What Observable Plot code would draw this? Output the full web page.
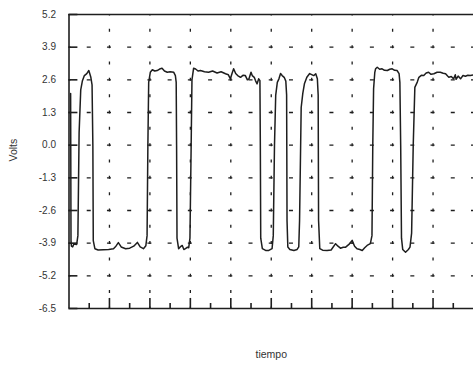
<!DOCTYPE html>
<html>
<head>
<meta charset="utf-8">
<script src="https://cdn.jsdelivr.net/npm/d3@7"></script>
<script src="https://cdn.jsdelivr.net/npm/@observablehq/plot@0.6"></script>
<style>
  html, body { margin: 0; padding: 0; background: #fff; }
</style>
</head>
<body>
<div id="chart"></div>
<script>
// Y tick labels (Volts)
const yTicks = [-6.5, -5.2, -3.9, -2.6, -1.3, 0.0, 1.3, 2.6, 3.9, 5.2];
// X (tiempo) grid: major and minor divisions
const xMajor = [1, 2, 3, 4, 5, 6, 7, 8, 9];
const xMinor = [0.5, 1.5, 2.5, 3.5, 4.5, 5.5, 6.5, 7.5, 8.5, 9.5];
const xDomain = [0, 10];
const yDomain = [-6.5, 5.2];

// Signal trace
const tiempo = [
  0.04, 0.05, 0.06, 0.09, 0.12, 0.19, 0.22, 0.25, 0.29, 0.33, 0.38, 0.44, 0.49, 0.54, 0.57, 0.59, 0.60, 0.64, 0.72, 0.85,
  0.98, 1.10, 1.16, 1.22, 1.29, 1.40, 1.50, 1.60, 1.69, 1.76, 1.84, 1.90, 1.93, 1.95, 1.97, 2.01, 2.06, 2.12, 2.18, 2.24,
  2.30, 2.36, 2.43, 2.50, 2.59, 2.63, 2.65, 2.66, 2.67, 2.71, 2.75, 2.80, 2.84, 2.88, 2.93, 2.96, 2.99, 3.02, 3.04, 3.08,
  3.13, 3.19, 3.25, 3.35, 3.45, 3.55, 3.66, 3.76, 3.87, 3.94, 3.99, 4.03, 4.07, 4.12, 4.17, 4.24, 4.30, 4.36, 4.41, 4.45,
  4.50, 4.53, 4.58, 4.61, 4.65, 4.69, 4.72, 4.73, 4.74, 4.78, 4.86, 4.94, 5.02, 5.05, 5.08, 5.11, 5.15, 5.19, 5.23, 5.27,
  5.32, 5.36, 5.38, 5.39, 5.41, 5.46, 5.56, 5.64, 5.68, 5.70, 5.74, 5.78, 5.82, 5.88, 5.95, 6.05, 6.10, 6.14, 6.16, 6.17,
  6.20, 6.27, 6.38, 6.48, 6.59, 6.65, 6.71, 6.78, 6.84, 6.92, 7.00, 7.06, 7.12, 7.19, 7.25, 7.31, 7.37, 7.45, 7.49, 7.51,
  7.53, 7.56, 7.58, 7.62, 7.68, 7.74, 7.80, 7.87, 7.93, 7.99, 8.05, 8.11, 8.16, 8.18, 8.20, 8.22, 8.25, 8.32, 8.39, 8.43,
  8.47, 8.51, 8.55, 8.61, 8.65, 8.71, 8.77, 8.83, 8.89, 8.95, 9.02, 9.10, 9.18, 9.25, 9.31, 9.36, 9.39, 9.45, 9.51, 9.55,
  9.57, 9.62, 9.68, 9.74, 9.80, 9.86, 9.92, 10.0
];
const volts = [
  2.06, -3.85, -4.02, -4.05, -3.93, -3.95, -3.6, 0.5, 2.2, 2.55, 2.77, 2.85, 2.97, 2.7, 2.4, 0.0, -3.8, -4.12, -4.17, -4.16,
  -4.15, -4.12, -4.02, -3.88, -4.05, -4.12, -4.10, -4.02, -3.87, -4.05, -4.12, -4.00, -3.6, 0.0, 2.5, 2.90, 3.00, 2.95, 2.97, 3.03,
  3.06, 2.95, 2.90, 2.92, 2.90, 2.77, 2.5, 0.0, -3.7, -4.12, -4.05, -3.99, -4.15, -4.12, -4.06, -4.08, -3.7, 0.0, 2.6, 3.06,
  3.03, 2.95, 2.97, 2.92, 2.90, 2.95, 2.87, 2.92, 2.84, 2.80, 2.64, 2.85, 3.04, 2.85, 2.77, 2.70, 2.78, 2.77, 2.60, 2.64,
  2.90, 2.77, 2.70, 2.57, 2.44, 2.64, 2.57, 0.0, -3.7, -4.12, -4.19, -4.19, -4.12, -3.6, 0.0, 1.98, 2.50, 2.64, 2.85, 2.77,
  2.70, 2.55, 2.0, -3.0, -4.05, -4.15, -4.19, -4.15, -4.05, -3.0, 1.5, 2.06, 2.44, 2.70, 2.85, 2.77, 2.84, 2.64, 2.0, -3.0,
  -4.12, -4.18, -4.19, -4.17, -3.92, -4.02, -4.10, -4.06, -4.06, -3.95, -3.79, -4.02, -4.12, -4.15, -4.19, -4.08, -3.99, -3.92, -3.6, 0.0,
  2.24, 2.9, 3.04, 3.10, 3.02, 3.04, 2.98, 2.97, 3.02, 3.04, 2.98, 2.97, 2.85, 2.5, 0.0, -3.7, -4.15, -4.26, -4.15, -4.06,
  -3.5, 0.0, 2.3, 2.51, 2.70, 2.78, 2.77, 2.87, 2.90, 2.82, 2.84, 2.90, 2.90, 2.86, 2.84, 2.75, 2.70, 2.73, 2.64, 2.80,
  2.62, 2.75, 2.64, 2.77, 2.74, 2.78, 2.77, 2.80
];

const signal = tiempo.map((t, i) => ({t, v: volts[i]}));
const gridY = yTicks.filter(d => d > yDomain[0] && d < yDomain[1]);
const ink = "#1e1e1e";

const chart = Plot.plot({
  width: 473,
  height: 366,
  marginLeft: 68.5,
  marginRight: 0,
  marginTop: 14,
  marginBottom: 58,
  style: {fontFamily: "'Liberation Sans', Arial, sans-serif", fontSize: "10px", color: "#333", background: "#fff"},
  x: {domain: xDomain, axis: null},
  y: {domain: yDomain, axis: null},
  marks: [
    // dashed grid
    Plot.ruleY(gridY, {stroke: ink, strokeWidth: 1.3, strokeDasharray: "4 16.225", strokeDashoffset: 2}),
    Plot.ruleX(xMajor, {stroke: ink, strokeWidth: 1.3, strokeDasharray: "3 13.33", strokeDashoffset: 1.5}),
    // inward ticks on the left axis
    Plot.ruleY(yTicks, {x1: xDomain[0], x2: 0.22, stroke: ink, strokeWidth: 1.6}),
    // inward ticks on the bottom axis
    Plot.ruleX(xMajor, {y1: yDomain[0], y2: -6.1, stroke: ink, strokeWidth: 1.6}),
    Plot.ruleX(xMinor, {y1: yDomain[0], y2: -6.3, stroke: ink, strokeWidth: 1.6}),
    // frame (left, top, bottom)
    Plot.ruleX([xDomain[0]], {stroke: ink, strokeWidth: 1.6}),
    Plot.ruleY(yDomain, {stroke: ink, strokeWidth: 1.6}),
    // signal
    Plot.line(signal, {x: "t", y: "v", stroke: ink, strokeWidth: 1.5, strokeLinejoin: "round"}),
    // y tick labels
    Plot.axisY(yTicks, {label: null, tickSize: 0, tickPadding: 13, tickFormat: d => d.toFixed(1), fontSize: 10, fill: "#333"}),
    // axis titles
    Plot.text(["Volts"], {frameAnchor: "left", dx: -55, rotate: -90, fontSize: 10.5, fill: "#333"}),
    Plot.text(["tiempo"], {frameAnchor: "bottom", dy: 49, fontSize: 10.5, fill: "#333"})
  ]
});
document.getElementById("chart").appendChild(chart);
</script>
</body>
</html>
